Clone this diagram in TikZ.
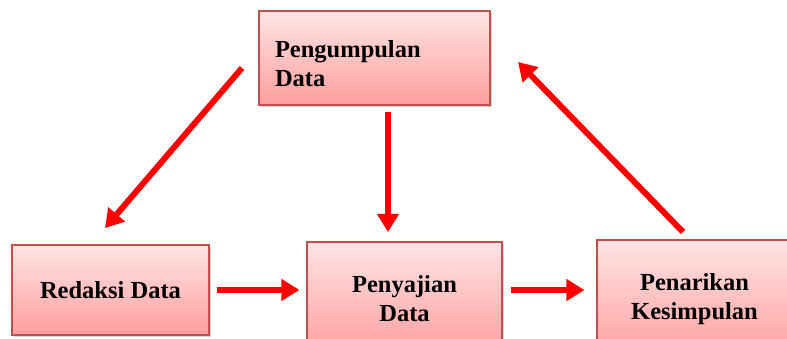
\documentclass[tikz,border=0pt]{standalone}
\usepackage{fontspec}
\setmainfont{Liberation Serif}
\usetikzlibrary{arrows.meta,shadows}

\definecolor{boxline}{RGB}{192,80,77}
\definecolor{boxtop}{RGB}{255,228,228}
\definecolor{boxbottom}{RGB}{255,158,158}

\tikzset{
    stage/.style={draw=boxline, line width=1.2pt, top color=boxtop, bottom color=boxbottom,
        drop shadow={shadow xshift=2pt, shadow yshift=-2pt, opacity=0.35},
        font=\fontsize{24.5}{29}\selectfont\bfseries, align=center, inner sep=0pt},
    stagetext/.style={font=\fontsize{24.5}{29}\selectfont\bfseries, inner sep=0pt},
    flow/.style={draw=red, line width=6pt, -{Triangle[length=18pt,width=21pt]}}
}

\begin{document}
\begin{tikzpicture}[x=1pt, y=1pt]
    \useasboundingbox (0,0) rectangle (787,-339);
    \node[stage, minimum width=231pt, minimum height=94pt] (kumpul) at (374.5,-58) {};
    \node[stagetext, text width=199pt, align=left] (kumpulteks) at (374.5,-64) {Pengumpulan\\Data};
    \node[stage, minimum width=197pt, minimum height=90pt] (redaksi) at (110.5,-290) {Redaksi Data};
    \node[stage, minimum width=195pt, minimum height=113pt] (sajian) at (404.5,-298.5) {Penyajian\\Data};
    \node[stage, minimum width=195pt, minimum height=119pt] (tarik) at (694.5,-299.5) {Penarikan\\Kesimpulan};

    \coordinate (kumpulkiri) at (242,-68);
    \coordinate (redaksiatas) at (105,-228);
    \coordinate (kumpulbawah) at (388,-112);
    \coordinate (sajianatas) at (388,-232);
    \coordinate (tarikatas) at (683,-232);
    \coordinate (kumpulkanan) at (518,-62);

    \draw[flow] (kumpulkiri) -- (redaksiatas);
    \draw[flow] (kumpulbawah) -- (sajianatas);
    \draw[flow] (tarikatas) -- (kumpulkanan);
    \draw[flow, shorten <=7pt, shorten >=7pt] (redaksi.east) -- (sajian.west |- redaksi.east);
    \draw[flow, shorten <=8pt, shorten >=12pt] (sajian.east |- redaksi.east) -- (tarik.west |- redaksi.east);
\end{tikzpicture}
\end{document}
